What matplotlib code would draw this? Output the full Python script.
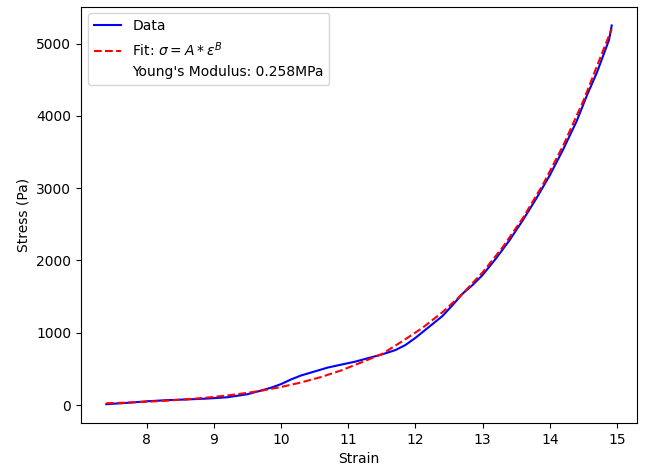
import matplotlib
import matplotlib.pyplot as plt

matplotlib.use("Agg")

# measured curve
strain = [7.4, 7.7, 8.0, 8.3, 8.6, 8.9, 9.2, 9.5, 9.7, 9.85,
          10.0, 10.15, 10.3, 10.5, 10.7, 10.9, 11.1, 11.3, 11.5, 11.7,
          11.85, 12.0, 12.2, 12.4, 12.55, 12.7, 12.85, 13.0, 13.2, 13.4,
          13.6, 13.8, 14.0, 14.2, 14.4, 14.55, 14.7, 14.8, 14.88, 14.92]
stress = [12, 30, 52, 68, 78, 90, 108, 150, 200, 240,
          290, 355, 410, 465, 520, 560, 600, 650, 700, 760,
          830, 930, 1080, 1230, 1380, 1540, 1660, 1800, 2030, 2280,
          2560, 2860, 3180, 3540, 3930, 4280, 4600, 4850, 5050, 5250]

# power-law fit curve
fit_strain = [7.4, 7.7, 8.0, 8.3, 8.6, 8.9, 9.2, 9.5, 9.7, 10.0,
              10.3, 10.6, 10.9, 11.2, 11.5, 11.8, 12.1, 12.4, 12.7, 13.0,
              13.3, 13.6, 13.9, 14.2, 14.5, 14.8, 14.92]
fit_stress = [25, 34, 46, 61, 80, 103, 133, 169, 198, 250,
              313, 389, 481, 592, 705, 880, 1065, 1283, 1539, 1836,
              2186, 2589, 3056, 3593, 4212, 4923, 5200]

fig, ax = plt.subplots(figsize=(6.48, 4.65), dpi=100)
fig.subplots_adjust(left=0.125, right=0.983, bottom=0.09, top=0.986)

ax.plot(strain, stress, color='blue', label='Data')
ax.plot(fit_strain, fit_stress, color='red', linestyle='--',
        label=r'Fit: $\sigma = A * \epsilon^B$')
ax.plot([], [], ' ', label="Young's Modulus: 0.258MPa")

ax.set_xlabel('Strain')
ax.set_ylabel('Stress (Pa)')
ax.legend(loc='upper left')

plt.savefig("out.png")
plt.close()
